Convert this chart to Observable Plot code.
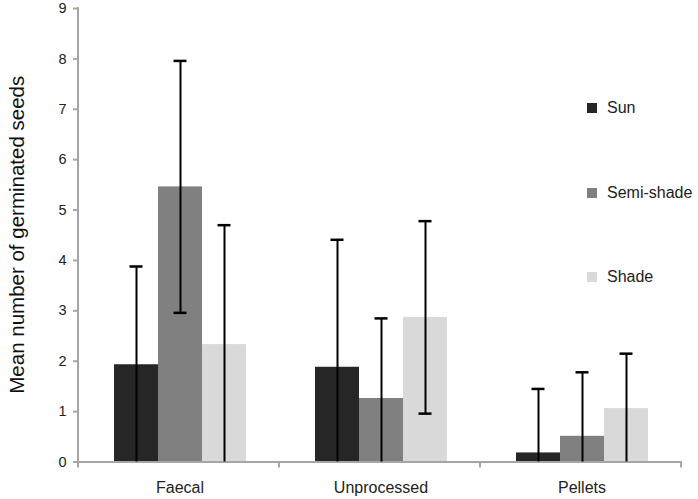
<!DOCTYPE html>
<html><head><meta charset="utf-8">
<script src="https://cdn.jsdelivr.net/npm/d3@7"></script>
<script src="https://cdn.jsdelivr.net/npm/@observablehq/plot@0.6"></script>
<style>
body{margin:0;background:#fff;font-family:"Liberation Sans",Arial,sans-serif;}
#wrap{position:relative;width:698px;height:499px;}
.leg{position:absolute;left:587px;height:20px;display:flex;align-items:center;font-size:16px;color:#222;white-space:nowrap;}
.sw{width:10px;height:10px;margin-right:10px;}
</style></head><body><div id="wrap"></div>
<script>
const categories = ["Faecal", "Unprocessed", "Pellets"];
const series = ["Sun", "Semi-shade", "Shade"];
const seriesColors = ["#262626", "#808080", "#d9d9d9"];
const sunMeans = [1.93, 1.88, 0.18];
const semiMeans = [5.46, 1.26, 0.51];
const shadeMeans = [2.33, 2.87, 1.06];
const sunErr = [1.95, 2.53, 1.27];
const semiErr = [2.50, 1.59, 1.27];
const shadeErr = [2.37, 1.91, 1.09];
const yTicks = [0, 1, 2, 3, 4, 5, 6, 7, 8, 9];
const yLabel = "Mean number of germinated seeds";

const meansBySeries = [sunMeans, semiMeans, shadeMeans];
const errBySeries = [sunErr, semiErr, shadeErr];
const rows = [];
categories.forEach((c, i) => series.forEach((s, j) => {
  const mean = meansBySeries[j][i], sd = errBySeries[j][i];
  rows.push({category: c, series: s, mean, sd, lo: Math.max(0, mean - sd), hi: mean + sd});
}));

const axisGray = "#a6a6a6";
const chart = Plot.plot({
  width: 698, height: 499,
  marginLeft: 78, marginRight: 16, marginTop: 8, marginBottom: 37.5,
  style: {fontFamily: "'Liberation Sans', Arial, sans-serif", background: "white", color: "#222"},
  fx: {domain: categories, padding: 0, label: null},
  x: {domain: series, paddingInner: 0, paddingOuter: 0.78, axis: null},
  y: {domain: [0, 9], label: null},
  color: {domain: series, range: seriesColors},
  marks: [
    Plot.axisY({ticks: yTicks, tickSize: 6, tickPadding: 7, fontSize: 14.5, stroke: axisGray, strokeWidth: 2, fill: "#222", label: null}),
    Plot.axisFx({anchor: "bottom", tickSize: 0, tickPadding: 20, fontSize: 16, fill: "#222", label: null}),
    Plot.barY(rows, {fx: "category", x: "series", y: "mean", fill: "series"}),
    Plot.ruleY([0], {stroke: axisGray, strokeWidth: 2}),
    Plot.ruleX(rows, {fx: "category", x: "series", y1: "lo", y2: "hi", stroke: "#000", strokeWidth: 2}),
    Plot.tickY(rows, {fx: "category", x: "series", y: "hi", stroke: "#000", strokeWidth: 2.5, inset: 15.5}),
    Plot.tickY(rows.filter(d => d.mean - d.sd > 0), {fx: "category", x: "series", y: "lo", stroke: "#000", strokeWidth: 2.5, inset: 15.5})
  ]
});
document.getElementById("wrap").appendChild(chart);

const svg = d3.select(chart);
svg.selectAll('g[aria-label="y-axis tick label"]').attr("font-size", 14.5).selectAll("text").attr("font-size", 14.5);
svg.selectAll('g[aria-label="fx-axis tick label"]').attr("font-size", 16).selectAll("text").attr("font-size", 16);

// axis line, group boundary ticks and y label from the plot's own scales
const fxs = chart.scale("fx"), ys = chart.scale("y");
const yScale = d3.scaleLinear(ys.domain, ys.range);
const step = fxs.step ?? (fxs.range[1] - fxs.range[0]) / categories.length;
const edges = d3.range(categories.length + 1).map(i => fxs.range[0] + i * step);
const g = svg.append("g").attr("stroke", axisGray).attr("stroke-width", 2);
g.append("line").attr("x1", edges[0]).attr("x2", edges[0]).attr("y1", yScale(0) + 6).attr("y2", yScale(9) - 1);
edges.slice(1).forEach(x => g.append("line").attr("x1", x).attr("x2", x).attr("y1", yScale(0)).attr("y2", yScale(0) + 6));
const yMid = (yScale(0) + yScale(9)) / 2;
svg.append("text").text(yLabel)
  .attr("transform", `translate(16,${yMid}) rotate(-90)`)
  .attr("text-anchor", "middle").attr("dominant-baseline", "central")
  .attr("font-size", 20.5).attr("fill", "#111");

// legend
const wrap = document.getElementById("wrap");
const legendTops = [98, 183, 267];
series.forEach((s, j) => {
  const d = document.createElement("div");
  d.className = "leg";
  d.style.top = legendTops[j] + "px";
  d.innerHTML = `<span class="sw" style="background:${seriesColors[j]}"></span><span>${s}</span>`;
  wrap.appendChild(d);
});
</script></body></html>
